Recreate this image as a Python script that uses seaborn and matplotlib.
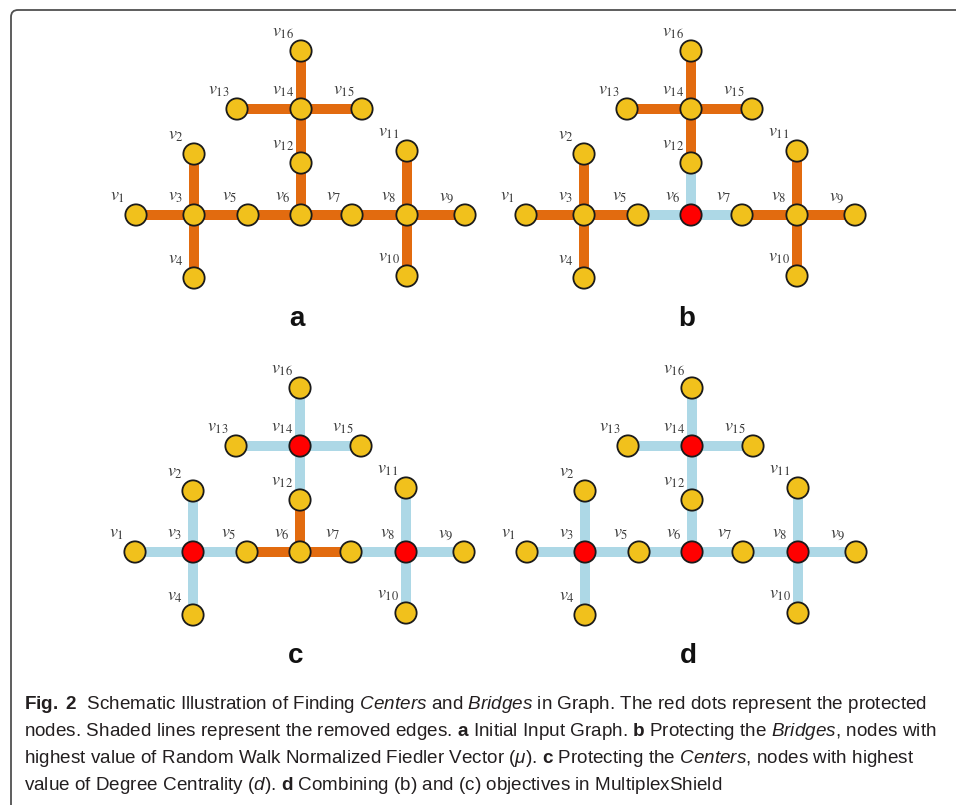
import numpy as np
import pandas as pd
import matplotlib
matplotlib.use('Agg')
import matplotlib.pyplot as plt
import matplotlib.patches as mpatches
from matplotlib.transforms import IdentityTransform
from matplotlib import font_manager
import seaborn as sns

# ─── Datos del grafo ────────────────────────────────────────────────────────
node_names = [f'v{i}' for i in range(1, 17)]
node_x = [-165, -107, -107, -107, -53, 0, 51, 106, 164, 106, 106, 0, -64, 0, 61, 0]
node_y = [0, 61, 0, -63, 0, 0, 0, 0, 0, -61, 64, 52, 106, 106, 106, 164]
edges = [(1, 3), (2, 3), (3, 4), (3, 5), (5, 6), (6, 7), (7, 8), (8, 9),
         (8, 10), (8, 11), (6, 12), (12, 14), (13, 14), (14, 15), (14, 16)]

panel_letters = ['a', 'b', 'c', 'd']
# nodos protegidos por panel
protected = {
    'a': [],
    'b': [6],
    'c': [3, 8, 14],
    'd': [3, 6, 8, 14],
}
# aristas eliminadas (sombreadas) por panel
removed = {
    'a': [],
    'b': [(5, 6), (6, 7), (6, 12)],
    'c': [e for e in edges if e not in [(5, 6), (6, 7), (6, 12)]],
    'd': list(edges),
}

caption_lines = [
    r'$\mathbf{Fig.\ 2}$  Schematic Illustration of Finding $\mathit{Centers}$ and $\mathit{Bridges}$ in Graph. The red dots represent the protected',
    r'nodes. Shaded lines represent the removed edges. $\mathbf{a}$ Initial Input Graph. $\mathbf{b}$ Protecting the $\mathit{Bridges}$, nodes with',
    r'highest value of Random Walk Normalized Fiedler Vector ($\mu$). $\mathbf{c}$ Protecting the $\mathit{Centers}$, nodes with highest',
    r'value of Degree Centrality ($\mathit{d}$). $\mathbf{d}$ Combining (b) and (c) objectives in MultiplexShield',
]

# ─── Estilo ─────────────────────────────────────────────────────────────────
COLOR_EDGE = '#E26B0F'
COLOR_REMOVED = '#ADD8E6'
COLOR_NODE = '#F1C11C'
COLOR_PROT = '#FF0000'
COLOR_TEXT = '#231F20'

sns.set_theme(style='white')

cap_family = 'Liberation Sans Narrow'
try:
    font_manager.findfont(font_manager.FontProperties(family=cap_family),
                          fallback_to_default=False)
except Exception:
    cap_family = 'Liberation Sans'

plt.rcParams['font.family'] = [cap_family, 'DejaVu Sans']
plt.rcParams['mathtext.fontset'] = 'custom'
plt.rcParams['mathtext.rm'] = cap_family
plt.rcParams['mathtext.it'] = f'{cap_family}:italic'
plt.rcParams['mathtext.bf'] = f'{cap_family}:bold'

W, H, DPI = 956, 805, 100
fig = plt.figure(figsize=(W / DPI, H / DPI), dpi=DPI)
fig.patch.set_facecolor('white')

# marco redondeado
frame = mpatches.FancyBboxPatch((11, -60), 1100, H - 10 + 60,
                                boxstyle='round,pad=0,rounding_size=7',
                                transform=IdentityTransform(),
                                facecolor='none', edgecolor='#505050', linewidth=1.3)
fig.patches.append(frame)

nodes = pd.DataFrame({'name': node_names, 'x': node_x, 'y': node_y,
                      'id': range(1, 17)})

# centro (v6) de cada panel en píxeles
centers = {'a': (301, 215), 'b': (691, 215), 'c': (300, 552), 'd': (692, 552)}
half_w, top, bottom = 195, 190, -125

for letter in panel_letters:
    cx, cy = centers[letter]
    ax = fig.add_axes([(cx - half_w) / W, (H - cy + bottom) / H,
                       2 * half_w / W, (top - bottom) / H])
    ax.set_xlim(-half_w, half_w)
    ax.set_ylim(bottom, top)
    ax.axis('off')

    for a, b in edges:
        col = COLOR_REMOVED if (a, b) in removed[letter] else COLOR_EDGE
        ax.plot([node_x[a - 1], node_x[b - 1]], [node_y[a - 1], node_y[b - 1]],
                color=col, linewidth=7.2, solid_capstyle='butt', zorder=1)

    df = nodes.copy()
    df['estado'] = np.where(df['id'].isin(protected[letter]), 'prot', 'normal')
    sns.scatterplot(data=df, x='x', y='y', hue='estado', ax=ax,
                    palette={'prot': COLOR_PROT, 'normal': COLOR_NODE},
                    s=235, edgecolor='#1a1a1a', linewidth=1.3, legend=False,
                    zorder=3)

    for _, r in df.iterrows():
        ax.annotate(f"$v_{{{r['id']}}}$", (r['x'], r['y']),
                    xytext=(-13, 13), textcoords='offset points',
                    ha='center', va='center', fontsize=13, color='#3a3a3a',
                    math_fontfamily='stix', zorder=4)

    ax.text(-4, -104, letter, ha='center', va='center', fontsize=20,
            fontweight='bold', family='Liberation Sans', color='#111111')

# pie de figura
baselines = [709, 736, 763, 790]
for line, yb in zip(caption_lines, baselines):
    fig.text(24 / W, 1 - yb / H, line, ha='left', va='baseline',
             fontsize=13.6, color=COLOR_TEXT)

fig.savefig('out.png', dpi=DPI, facecolor='white')
